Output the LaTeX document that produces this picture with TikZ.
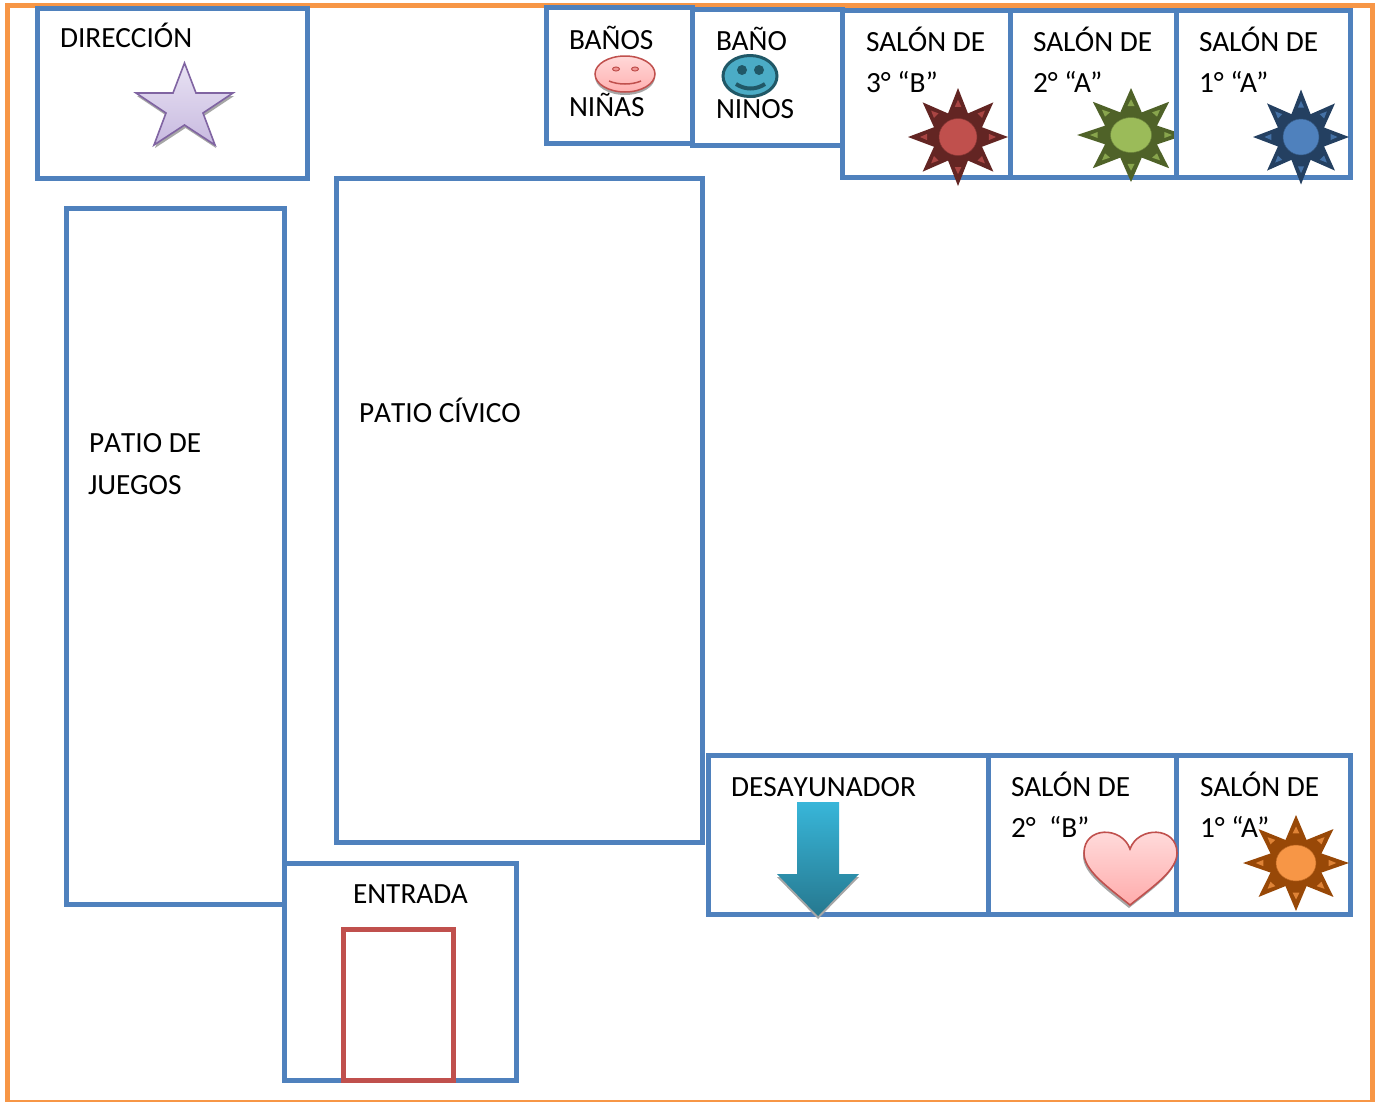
\documentclass[tikz,border=0pt]{standalone}
\usepackage{fontspec}
\setmainfont{Carlito}
\definecolor{roomblue}{HTML}{4F81BD}
\definecolor{outerorange}{HTML}{F79646}
\definecolor{doorred}{HTML}{C0504D}
\definecolor{facedark}{HTML}{205867}
\definecolor{facelight}{HTML}{4BACC6}
\definecolor{reddark}{HTML}{632523}
\definecolor{greendark}{HTML}{4F6228}
\definecolor{greenlight}{HTML}{9BBB59}
\definecolor{bluedark}{HTML}{244061}
\definecolor{orangedark}{HTML}{984807}
\definecolor{starline}{HTML}{8064A2}
\tikzset{
  room/.style={draw=roomblue,line width=5pt,miter limit=10},
  outer/.style={draw=outerorange,line width=5pt},
  door/.style={draw=doorred,line width=5pt},
  lbl/.style={anchor=base west,inner sep=0pt,outer sep=0pt,font=\fontsize{29.3}{29.3}\selectfont,text=black},
  lblopen/.style={lbl,font=\fontsize{29.3}{29.3}\selectfont\addfontfeature{Kerning=Off}},
  shadowshape/.style={fill=black!35,draw=none}
}
% sun: cx cy rx ry rinnerx rinnery dark light
\newcommand{\sunshape}[8]{%
  \begin{scope}[shift={(#1,#2)},x=#3pt,y=-#4pt]
    \fill[#7] (0:1)
      \foreach \a in {0,45,...,315}{ -- (\a:1) -- (\a+22.5:0.52) } -- cycle;
    \foreach \a in {0,45,...,315}{
      \fill[#8!75!#7] (\a:0.76) -- (\a+6:0.62) -- (\a-6:0.62) -- cycle;
    }
  \end{scope}
  \fill[#8,draw=#7!60!#8,line width=0.5pt] (#1,#2) ellipse [x radius=#5pt,y radius=#6pt];
}
\begin{document}
\begin{tikzpicture}[x=1pt,y=-1pt]
\useasboundingbox (0,0) rectangle (1380,1101);
\fill[white] (0,0) rectangle (1380,1101);
\draw[outer] (7,5) rectangle (1372,1102.6);
% rooms
\begin{scope}[shift={(-0.3,-0.3)}]
\draw[room] (38,9) rectangle (308,179);
\draw[room] (547,8) rectangle (693,144);
\draw[room] (693,10) rectangle (843,146);
\draw[room] (843,11) rectangle (1011,178);
\draw[room] (1011,11) rectangle (1177,178);
\draw[room] (67,209) rectangle (285,905);
\draw[room] (337,179) rectangle (703,843);
\draw[room] (709,756) rectangle (989,915);
\draw[room] (989,756) rectangle (1177,915);
\draw[room] (1177,756) rectangle (1351,915);
\draw[room] (285,864) rectangle (517,1081);
\draw[door] (344,930) rectangle (454,1081);
\end{scope}
% labels
\node[lbl] (direccion) at (60,47.5) {DIRECCIÓN};
\node[lbl] (banos) at (569,49) {BAÑOS};
\node[lbl] (ninas) at (569,116) {NIÑAS};
\node[lbl] (bano) at (716,50) {BAÑO};
\node[lbl] (ninos) at (716,118) {NIÑOS};
\node[lbl] (s3b) at (866,51) {SALÓN DE};
\node[lbl] (s3bb) at (866,92) {3° “B”};
\node[lbl] (s2a) at (1033,51) {SALÓN DE};
\node[lbl] (s2aa) at (1033,92) {2° “A”};
\node[lbl] (s1a) at (1199,51) {SALÓN DE};
\node[lbl] (s1aa) at (1199,92) {1° “A”};
\node[lblopen] (juegos) at (89,452) {PATIO DE};
\node[lbl] (juegosb) at (88,494) {JUEGOS};
\node[lblopen] (civico) at (359,422) {PATIO CÍVICO};
\node[lblopen] (desay) at (731,796) {DESAYUNADOR};
\node[lbl] (s2b) at (1011,796) {SALÓN DE};
\node[lbl] (s2bb) at (1011,837) {2°\ \ “B”};
\node[lbl] (s1b) at (1200,796) {SALÓN DE};
\node[lbl] (s1bb) at (1200,837) {1° “A”};
\node[lbl] (entrada) at (353,903) {ENTRADA};
% star
\fill[shadowshape,shift={(1,3)}] (184.5,63) -- (196,93) -- (233,93) -- (203,113) -- (215,145) -- (184.5,125) -- (154,145) -- (166,113) -- (136,93) -- (173,93) -- cycle;
\draw[draw=starline,line width=1.6pt,top color={rgb,255:red,232;green,226;blue,243},bottom color={rgb,255:red,200;green,186;blue,224},line join=miter]
  (184.5,63) -- (196,93) -- (233,93) -- (203,113) -- (215,145) -- (184.5,125) -- (154,145) -- (166,113) -- (136,93) -- (173,93) -- cycle;
% pink face
\fill[shadowshape] (625,77) ellipse [x radius=30pt,y radius=18pt];
\draw[draw=doorred,line width=1.5pt,top color={rgb,255:red,255;green,216;blue,216},bottom color={rgb,255:red,255;green,176;blue,176}] (625,74) ellipse [x radius=30pt,y radius=18pt];
\draw[draw=doorred,line width=1pt,fill={rgb,255:red,240;green,150;blue,150}] (616,69) ellipse [x radius=3.5pt,y radius=2pt];
\draw[draw=doorred,line width=1pt,fill={rgb,255:red,240;green,150;blue,150}] (635,69) ellipse [x radius=3.5pt,y radius=2pt];
\draw[draw=doorred,line width=1.5pt] (609,81) .. controls (618,85) and (632,85) .. (641,81);
% blue face
\draw[draw=facedark,line width=3pt,fill=facelight] (750,76) ellipse [x radius=27pt,y radius=20.5pt];
\fill[facedark] (742,70) ellipse [x radius=5pt,y radius=5pt];
\fill[facedark] (759,70) ellipse [x radius=5pt,y radius=5pt];
\draw[draw=facedark,line width=4pt] (736,84) .. controls (745,90) and (756,90) .. (765,84);
% suns
\sunshape{958}{137}{50}{49}{19}{18.5}{reddark}{doorred}
\begin{scope}
  \clip (1000,80) rectangle (1176,190);
  \sunshape{1131}{135}{54}{47}{20.5}{17.5}{greendark}{greenlight}
\end{scope}
\draw[room,shift={(-0.3,-0.3)}] (1177,11) rectangle (1351,178);
\sunshape{1301}{137}{48}{47.5}{18}{18}{bluedark}{roomblue}
% arrow
\fill[shadowshape] (777,877) -- (818,919) -- (859,877) -- cycle;
\path[top color={rgb,255:red,56;green,182;blue,217},bottom color={rgb,255:red,38;green,120;blue,143}]
  (797,802) -- (839,802) -- (839,874) -- (859,874) -- (818,916) -- (777,874) -- (797,874) -- cycle;
% heart
\fill[shadowshape,shift={(-1,3)}] (1130,905) .. controls (1105,885) and (1084,870) .. (1084,853) .. controls (1084,826) and (1122,826) .. (1130,849) .. controls (1138,826) and (1177,826) .. (1177,853) .. controls (1177,870) and (1155,885) .. (1130,905) -- cycle;
\draw[draw=doorred,line width=1.6pt,top color={rgb,255:red,255;green,222;blue,222},bottom color={rgb,255:red,255;green,172;blue,172}]
  (1130,905) .. controls (1105,885) and (1084,870) .. (1084,853) .. controls (1084,826) and (1122,826) .. (1130,849) .. controls (1138,826) and (1177,826) .. (1177,853) .. controls (1177,870) and (1155,885) .. (1130,905) -- cycle;
\sunshape{1296}{863}{53}{48}{20}{18}{orangedark}{outerorange}
\end{tikzpicture}
\end{document}
